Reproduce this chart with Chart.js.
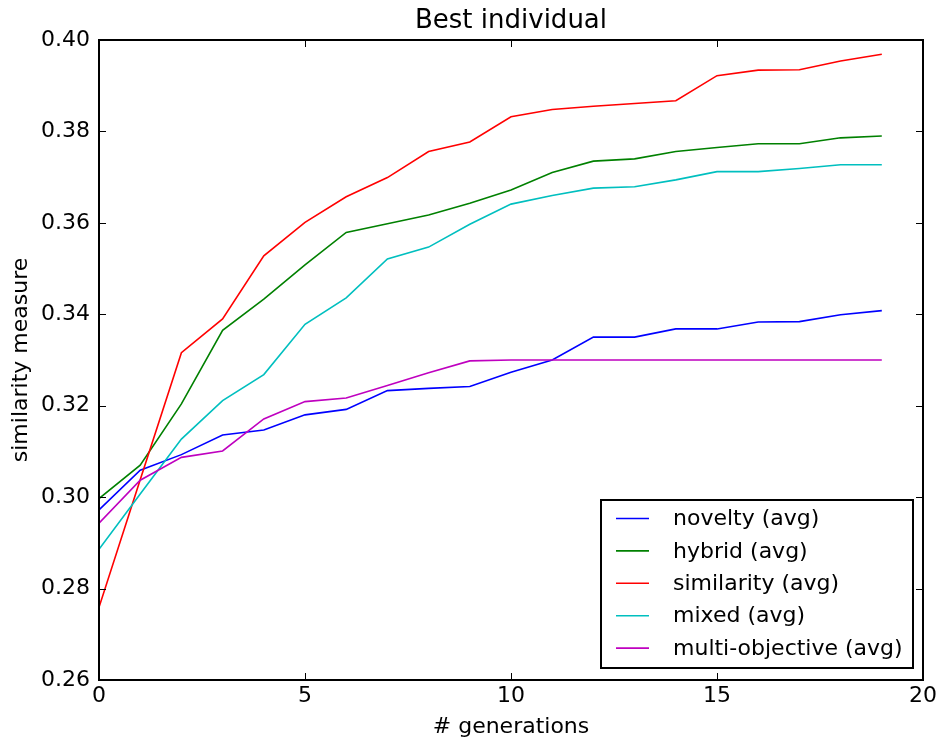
<!DOCTYPE html>
<html lang="en">
<head>
  <meta charset="UTF-8">
  <title>Best individual</title>
  <script src="https://cdn.jsdelivr.net/npm/chart.js"></script>
  <style>
      html, body { margin: 0; padding: 0; background: #ffffff; }
      #wrap { width: 940px; height: 742px; position: relative; }
  </style>
</head>
<body>
  <div id="wrap">
      <canvas id="bestChart"></canvas>
  </div>

  <script>
      var generations = [0, 1, 2, 3, 4, 5, 6, 7, 8, 9, 10, 11, 12, 13, 14, 15, 16, 17, 18, 19];

      var novelty = [
        0.2972, 0.3059, 0.3093, 0.3136, 0.3147, 0.3180, 0.3192, 0.3233, 0.3238, 0.3242,
        0.3273, 0.3300, 0.3350, 0.3350, 0.3368, 0.3368, 0.3383, 0.3384, 0.3399, 0.3408
      ];
      var hybrid = [
        0.2997, 0.3070, 0.3204, 0.3365, 0.3433, 0.3508, 0.3579, 0.3598, 0.3617, 0.3643,
        0.3672, 0.3710, 0.3735, 0.3740, 0.3756, 0.3765, 0.3773, 0.3773, 0.3786, 0.3790
      ];
      var similarity = [
        0.2759, 0.3038, 0.3316, 0.3390, 0.3528, 0.3601, 0.3657, 0.3699, 0.3756, 0.3777,
        0.3832, 0.3848, 0.3855, 0.3861, 0.3867, 0.3922, 0.3934, 0.3935, 0.3954, 0.3969
      ];
      var mixed = [
        0.2886, 0.3007, 0.3127, 0.3211, 0.3268, 0.3378, 0.3436, 0.3521, 0.3547, 0.3597,
        0.3641, 0.3660, 0.3676, 0.3679, 0.3694, 0.3712, 0.3712, 0.3719, 0.3727, 0.3727
      ];
      var multiObjective = [
        0.2943, 0.3037, 0.3087, 0.3101, 0.3171, 0.3209, 0.3217, 0.3244, 0.3272, 0.3298,
        0.3300, 0.3300, 0.3300, 0.3300, 0.3300, 0.3300, 0.3300, 0.3300, 0.3300, 0.3300
      ];

      var seriesNames = ['novelty (avg)', 'hybrid (avg)', 'similarity (avg)', 'mixed (avg)', 'multi-objective (avg)'];
      var seriesColors = ['#0000ff', '#008000', '#ff0000', '#00bfbf', '#bf00bf'];
      var seriesValues = [novelty, hybrid, similarity, mixed, multiObjective];

      var xTicks = [0, 5, 10, 15, 20];
      var yTicks = [0.26, 0.28, 0.30, 0.32, 0.34, 0.36, 0.38, 0.40];

      var FONT = 'DejaVu Sans';

      // Box around the axes with inward tick marks on every side
      Chart.register({
          id: 'frameTicks',
          afterDatasetsDraw: (chart) => {
              const { ctx, chartArea: { left, right, top, bottom }, scales: { x, y } } = chart;
              const len = 7;
              ctx.save();
              ctx.strokeStyle = '#000000';
              ctx.lineWidth = 1;
              ctx.beginPath();
              xTicks.forEach(v => {
                  const px = Math.round(x.getPixelForValue(v)) + 0.5;
                  ctx.moveTo(px, bottom); ctx.lineTo(px, bottom - len);
                  ctx.moveTo(px, top); ctx.lineTo(px, top + len);
              });
              yTicks.forEach(v => {
                  const py = Math.round(y.getPixelForValue(v)) + 0.5;
                  ctx.moveTo(left, py); ctx.lineTo(left + len, py);
                  ctx.moveTo(right, py); ctx.lineTo(right - len, py);
              });
              ctx.stroke();
              ctx.lineWidth = 2;
              ctx.strokeRect(left, top, right - left, bottom - top);
              ctx.restore();
          }
      });

      // Title and boxed legend in the lower right corner
      Chart.register({
          id: 'titleLegend',
          afterDraw: (chart) => {
              const { ctx, chartArea: { left, right, bottom } } = chart;
              ctx.save();
              ctx.fillStyle = '#000000';
              ctx.font = '26px "' + FONT + '"';
              ctx.textAlign = 'center';
              ctx.textBaseline = 'middle';
              ctx.fillText('Best individual', (left + right) / 2, 21);

              const boxW = 312, boxH = 168;
              const bx = right - 10 - boxW, by = bottom - 12 - boxH;
              ctx.fillStyle = '#ffffff';
              ctx.fillRect(bx, by, boxW, boxH);
              ctx.strokeStyle = '#000000';
              ctx.lineWidth = 2;
              ctx.strokeRect(bx, by, boxW, boxH);

              ctx.font = '22px "' + FONT + '"';
              ctx.textAlign = 'left';
              chart.data.datasets.forEach((ds, i) => {
                  const ly = by + 18.5 + i * 32.4;
                  ctx.strokeStyle = ds.borderColor;
                  ctx.lineWidth = 1.6;
                  ctx.beginPath();
                  ctx.moveTo(bx + 15, ly);
                  ctx.lineTo(bx + 48, ly);
                  ctx.stroke();
                  ctx.fillStyle = '#000000';
                  ctx.fillText(ds.label, bx + 72, ly + 1);
              });
              ctx.restore();
          }
      });

      var ctx = document.getElementById('bestChart').getContext('2d');

      var bestChart = new Chart(ctx, {
          type: 'line',
          data: {
              datasets: seriesValues.map((vals, i) => ({
                  label: seriesNames[i],
                  data: generations.map((g, k) => ({ x: g, y: vals[k] })),
                  borderColor: seriesColors[i],
                  backgroundColor: seriesColors[i],
                  borderWidth: 1.6,
                  pointRadius: 0,
                  tension: 0,
                  fill: false,
                  order: seriesValues.length - i
              }))
          },
          options: {
              responsive: true,
              maintainAspectRatio: false,
              animation: false,
              layout: { padding: { top: 40, right: 16, left: 0, bottom: 0 } },
              scales: {
                  x: {
                      type: 'linear',
                      min: 0,
                      max: 20,
                      afterFit: (scale) => { scale.height = 62; },
                      afterBuildTicks: (scale) => { scale.ticks = xTicks.map(v => ({ value: v })); },
                      grid: { display: false, drawTicks: false },
                      border: { display: false },
                      ticks: {
                          color: '#000000',
                          padding: 3,
                          font: { family: FONT, size: 22 },
                          callback: (v) => String(v)
                      },
                      title: {
                          display: true,
                          text: '# generations',
                          color: '#000000',
                          font: { family: FONT, size: 22 },
                          padding: { top: 0, bottom: 2 }
                      }
                  },
                  y: {
                      type: 'linear',
                      min: 0.26,
                      max: 0.40,
                      afterFit: (scale) => { scale.width = 99; },
                      afterBuildTicks: (scale) => { scale.ticks = yTicks.map(v => ({ value: v })); },
                      grid: { display: false, drawTicks: false },
                      border: { display: false },
                      ticks: {
                          color: '#000000',
                          padding: 9,
                          font: { family: FONT, size: 22 },
                          callback: (v) => v.toFixed(2)
                      },
                      title: {
                          display: true,
                          text: 'similarity measure',
                          color: '#000000',
                          font: { family: FONT, size: 22 },
                          padding: { top: 8, bottom: 0 }
                      }
                  }
              },
              plugins: {
                  legend: { display: false },
                  tooltip: { enabled: false }
              }
          }
      });
  </script>
</body>
</html>
